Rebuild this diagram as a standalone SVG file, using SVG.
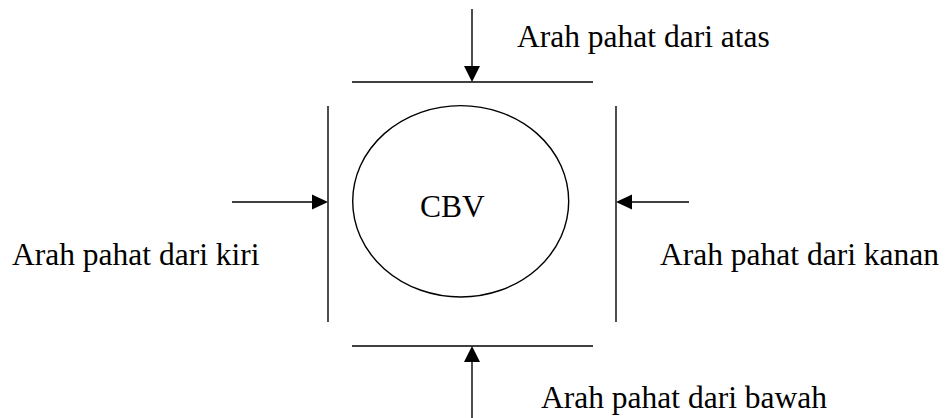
<svg xmlns="http://www.w3.org/2000/svg" width="946" height="418" viewBox="0 0 946 418">
  <style>
    .ln { stroke: #000; stroke-width: 1.4; fill: none; }
    .lbl { font-family: "Liberation Serif", "Times New Roman", serif; font-size: 31.5px; fill: #000; }
    .head { fill: #000; stroke: none; }
  </style>
  <rect width="946" height="418" fill="#fff"/>

  <!-- workpiece -->
  <g id="cbv">
    <ellipse class="ln" cx="460.7" cy="201.3" rx="108" ry="95.7"/>
    <text class="lbl" x="420" y="216.7">CBV</text>
  </g>

  <!-- cutter faces around the workpiece -->
  <g id="face-top"><line class="ln" x1="352" y1="82" x2="593" y2="82"/></g>
  <g id="face-bottom"><line class="ln" x1="352" y1="346" x2="593" y2="346"/></g>
  <g id="face-left"><line class="ln" x1="328" y1="106" x2="328" y2="322"/></g>
  <g id="face-right"><line class="ln" x1="616" y1="106" x2="616" y2="322"/></g>

  <!-- labels -->
  <g id="label-top"><text class="lbl" x="517" y="46.7">Arah pahat dari atas</text></g>
  <g id="label-left"><text class="lbl" x="12" y="265">Arah pahat dari kiri</text></g>
  <g id="label-right"><text class="lbl" x="660" y="265">Arah pahat dari kanan</text></g>
  <g id="label-bottom"><text class="lbl" x="541" y="408">Arah pahat dari bawah</text></g>

  <!-- feed direction arrows -->
  <g id="connectors">
    <line class="ln" x1="472" y1="9" x2="472" y2="68"/>
    <polygon class="head" points="464,66 480,66 472,82"/>

    <line class="ln" x1="472" y1="418" x2="472" y2="360"/>
    <polygon class="head" points="464,362 480,362 472,346"/>

    <line class="ln" x1="232" y1="202" x2="314" y2="202"/>
    <polygon class="head" points="312,194.5 312,209.5 328,202"/>

    <line class="ln" x1="689" y1="202" x2="630" y2="202"/>
    <polygon class="head" points="632,194.5 632,209.5 616,202"/>
  </g>
</svg>
